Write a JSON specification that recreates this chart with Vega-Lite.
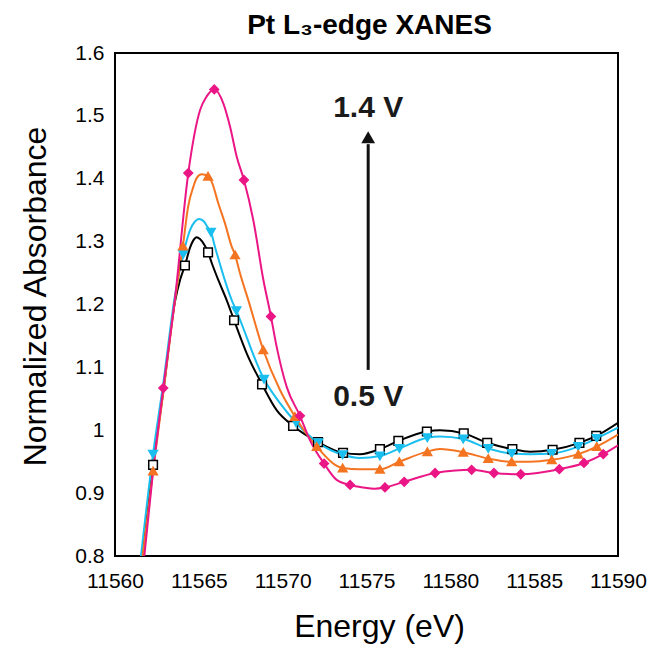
{
  "$schema": "https://vega.github.io/schema/vega-lite/v6.json",
  "width": 503,
  "height": 503,
  "autosize": {"type": "none"},
  "padding": {"left": 115, "top": 53, "right": 37, "bottom": 90},
  "background": "white",
  "config": {
    "view": {"stroke": "black", "strokeWidth": 2},
    "font": "Liberation Sans",
    "axis": {"domain": false, "ticks": false, "grid": false, "labelColor": "black", "titleColor": "black", "labelFont": "Liberation Sans", "titleFont": "Liberation Sans", "titleFontWeight": "normal", "labelFontSize": 21, "titleFontSize": 32, "labelOverlap": false, "labelFlush": false, "labelBound": false}
  },
  "title": {"text": "Pt L₃-edge XANES", "fontSize": 28, "fontWeight": "bold", "font": "Liberation Sans", "anchor": "middle", "offset": 2, "color": "black", "dx": 3},
  "datasets": {
    "curves": [
      {"s": "0.5 V", "e": 11561.65, "a": 0.800, "m": 0},
      {"s": "0.5 V", "e": 11562.27, "a": 0.945, "m": 1},
      {"s": "0.5 V", "e": 11562.88, "a": 1.062, "m": 0},
      {"s": "0.5 V", "e": 11563.58, "a": 1.205, "m": 0},
      {"s": "0.5 V", "e": 11563.88, "a": 1.239, "m": 0},
      {"s": "0.5 V", "e": 11564.17, "a": 1.262, "m": 1},
      {"s": "0.5 V", "e": 11564.47, "a": 1.290, "m": 0},
      {"s": "0.5 V", "e": 11564.67, "a": 1.302, "m": 0},
      {"s": "0.5 V", "e": 11564.87, "a": 1.307, "m": 0},
      {"s": "0.5 V", "e": 11565.07, "a": 1.304, "m": 0},
      {"s": "0.5 V", "e": 11565.37, "a": 1.293, "m": 0},
      {"s": "0.5 V", "e": 11565.55, "a": 1.283, "m": 1},
      {"s": "0.5 V", "e": 11565.77, "a": 1.266, "m": 0},
      {"s": "0.5 V", "e": 11566.16, "a": 1.239, "m": 0},
      {"s": "0.5 V", "e": 11566.66, "a": 1.207, "m": 0},
      {"s": "0.5 V", "e": 11567.10, "a": 1.175, "m": 1},
      {"s": "0.5 V", "e": 11567.86, "a": 1.122, "m": 0},
      {"s": "0.5 V", "e": 11568.77, "a": 1.073, "m": 1},
      {"s": "0.5 V", "e": 11569.64, "a": 1.032, "m": 0},
      {"s": "0.5 V", "e": 11570.62, "a": 1.007, "m": 1},
      {"s": "0.5 V", "e": 11572.11, "a": 0.981, "m": 1},
      {"s": "0.5 V", "e": 11573.60, "a": 0.964, "m": 1},
      {"s": "0.5 V", "e": 11574.61, "a": 0.962, "m": 0},
      {"s": "0.5 V", "e": 11575.80, "a": 0.970, "m": 1},
      {"s": "0.5 V", "e": 11576.90, "a": 0.983, "m": 1},
      {"s": "0.5 V", "e": 11578.60, "a": 0.998, "m": 1},
      {"s": "0.5 V", "e": 11579.38, "a": 1.000, "m": 0},
      {"s": "0.5 V", "e": 11580.80, "a": 0.995, "m": 1},
      {"s": "0.5 V", "e": 11582.20, "a": 0.980, "m": 1},
      {"s": "0.5 V", "e": 11583.70, "a": 0.970, "m": 1},
      {"s": "0.5 V", "e": 11584.75, "a": 0.966, "m": 0},
      {"s": "0.5 V", "e": 11586.10, "a": 0.969, "m": 1},
      {"s": "0.5 V", "e": 11587.70, "a": 0.980, "m": 1},
      {"s": "0.5 V", "e": 11588.70, "a": 0.991, "m": 1},
      {"s": "0.5 V", "e": 11590.00, "a": 1.012, "m": 0},

      {"s": "V2", "e": 11561.55, "a": 0.800, "m": 0},
      {"s": "V2", "e": 11562.27, "a": 0.962, "m": 1},
      {"s": "V2", "e": 11562.88, "a": 1.075, "m": 0},
      {"s": "V2", "e": 11563.58, "a": 1.215, "m": 0},
      {"s": "V2", "e": 11564.07, "a": 1.280, "m": 1},
      {"s": "V2", "e": 11564.47, "a": 1.318, "m": 0},
      {"s": "V2", "e": 11564.77, "a": 1.332, "m": 0},
      {"s": "V2", "e": 11565.01, "a": 1.336, "m": 0},
      {"s": "V2", "e": 11565.27, "a": 1.333, "m": 0},
      {"s": "V2", "e": 11565.57, "a": 1.321, "m": 0},
      {"s": "V2", "e": 11565.72, "a": 1.315, "m": 1},
      {"s": "V2", "e": 11565.96, "a": 1.292, "m": 0},
      {"s": "V2", "e": 11566.56, "a": 1.238, "m": 0},
      {"s": "V2", "e": 11566.96, "a": 1.207, "m": 0},
      {"s": "V2", "e": 11567.24, "a": 1.190, "m": 1},
      {"s": "V2", "e": 11568.89, "a": 1.081, "m": 1},
      {"s": "V2", "e": 11569.84, "a": 1.043, "m": 0},
      {"s": "V2", "e": 11570.80, "a": 1.012, "m": 1},
      {"s": "V2", "e": 11572.12, "a": 0.980, "m": 1},
      {"s": "V2", "e": 11573.58, "a": 0.961, "m": 1},
      {"s": "V2", "e": 11574.61, "a": 0.956, "m": 0},
      {"s": "V2", "e": 11575.80, "a": 0.959, "m": 1},
      {"s": "V2", "e": 11576.96, "a": 0.971, "m": 1},
      {"s": "V2", "e": 11578.63, "a": 0.988, "m": 1},
      {"s": "V2", "e": 11579.38, "a": 0.990, "m": 0},
      {"s": "V2", "e": 11580.77, "a": 0.986, "m": 1},
      {"s": "V2", "e": 11582.26, "a": 0.971, "m": 1},
      {"s": "V2", "e": 11583.66, "a": 0.963, "m": 1},
      {"s": "V2", "e": 11584.75, "a": 0.962, "m": 0},
      {"s": "V2", "e": 11586.05, "a": 0.963, "m": 1},
      {"s": "V2", "e": 11587.63, "a": 0.974, "m": 1},
      {"s": "V2", "e": 11588.73, "a": 0.987, "m": 1},
      {"s": "V2", "e": 11590.00, "a": 1.004, "m": 0},

      {"s": "V3", "e": 11561.65, "a": 0.800, "m": 0},
      {"s": "V3", "e": 11562.27, "a": 0.935, "m": 1},
      {"s": "V3", "e": 11562.88, "a": 1.060, "m": 0},
      {"s": "V3", "e": 11563.58, "a": 1.207, "m": 0},
      {"s": "V3", "e": 11564.05, "a": 1.293, "m": 1},
      {"s": "V3", "e": 11564.37, "a": 1.357, "m": 0},
      {"s": "V3", "e": 11564.67, "a": 1.387, "m": 0},
      {"s": "V3", "e": 11564.87, "a": 1.401, "m": 0},
      {"s": "V3", "e": 11565.17, "a": 1.407, "m": 0},
      {"s": "V3", "e": 11565.55, "a": 1.404, "m": 1},
      {"s": "V3", "e": 11565.77, "a": 1.395, "m": 0},
      {"s": "V3", "e": 11566.16, "a": 1.361, "m": 0},
      {"s": "V3", "e": 11566.56, "a": 1.329, "m": 0},
      {"s": "V3", "e": 11566.96, "a": 1.292, "m": 0},
      {"s": "V3", "e": 11567.16, "a": 1.279, "m": 1},
      {"s": "V3", "e": 11567.45, "a": 1.250, "m": 0},
      {"s": "V3", "e": 11567.95, "a": 1.207, "m": 0},
      {"s": "V3", "e": 11568.84, "a": 1.128, "m": 1},
      {"s": "V3", "e": 11569.84, "a": 1.064, "m": 0},
      {"s": "V3", "e": 11570.73, "a": 1.022, "m": 1},
      {"s": "V3", "e": 11572.03, "a": 0.974, "m": 1},
      {"s": "V3", "e": 11573.58, "a": 0.940, "m": 1},
      {"s": "V3", "e": 11574.61, "a": 0.938, "m": 0},
      {"s": "V3", "e": 11575.80, "a": 0.938, "m": 1},
      {"s": "V3", "e": 11576.96, "a": 0.950, "m": 1},
      {"s": "V3", "e": 11578.63, "a": 0.966, "m": 1},
      {"s": "V3", "e": 11579.38, "a": 0.970, "m": 0},
      {"s": "V3", "e": 11580.77, "a": 0.965, "m": 1},
      {"s": "V3", "e": 11582.26, "a": 0.955, "m": 1},
      {"s": "V3", "e": 11583.66, "a": 0.950, "m": 1},
      {"s": "V3", "e": 11584.75, "a": 0.950, "m": 0},
      {"s": "V3", "e": 11586.05, "a": 0.953, "m": 1},
      {"s": "V3", "e": 11587.63, "a": 0.962, "m": 1},
      {"s": "V3", "e": 11588.73, "a": 0.974, "m": 1},
      {"s": "V3", "e": 11590.00, "a": 0.993, "m": 0},

      {"s": "1.4 V", "e": 11561.75, "a": 0.800, "m": 0},
      {"s": "1.4 V", "e": 11562.27, "a": 0.935, "m": 0},
      {"s": "1.4 V", "e": 11562.88, "a": 1.067, "m": 1},
      {"s": "1.4 V", "e": 11563.58, "a": 1.210, "m": 0},
      {"s": "1.4 V", "e": 11564.37, "a": 1.409, "m": 1},
      {"s": "1.4 V", "e": 11565.07, "a": 1.509, "m": 0},
      {"s": "1.4 V", "e": 11565.47, "a": 1.531, "m": 0},
      {"s": "1.4 V", "e": 11565.92, "a": 1.542, "m": 1},
      {"s": "1.4 V", "e": 11566.46, "a": 1.520, "m": 0},
      {"s": "1.4 V", "e": 11566.86, "a": 1.483, "m": 0},
      {"s": "1.4 V", "e": 11567.26, "a": 1.435, "m": 0},
      {"s": "1.4 V", "e": 11567.69, "a": 1.398, "m": 1},
      {"s": "1.4 V", "e": 11568.25, "a": 1.334, "m": 0},
      {"s": "1.4 V", "e": 11568.85, "a": 1.239, "m": 0},
      {"s": "1.4 V", "e": 11569.30, "a": 1.181, "m": 1},
      {"s": "1.4 V", "e": 11569.64, "a": 1.133, "m": 0},
      {"s": "1.4 V", "e": 11570.24, "a": 1.069, "m": 0},
      {"s": "1.4 V", "e": 11571.03, "a": 1.023, "m": 1},
      {"s": "1.4 V", "e": 11571.63, "a": 0.984, "m": 0},
      {"s": "1.4 V", "e": 11572.47, "a": 0.947, "m": 1},
      {"s": "1.4 V", "e": 11573.22, "a": 0.921, "m": 0},
      {"s": "1.4 V", "e": 11574.02, "a": 0.913, "m": 1},
      {"s": "1.4 V", "e": 11574.81, "a": 0.909, "m": 0},
      {"s": "1.4 V", "e": 11575.50, "a": 0.907, "m": 0},
      {"s": "1.4 V", "e": 11576.10, "a": 0.909, "m": 1},
      {"s": "1.4 V", "e": 11577.25, "a": 0.918, "m": 1},
      {"s": "1.4 V", "e": 11579.09, "a": 0.932, "m": 1},
      {"s": "1.4 V", "e": 11580.30, "a": 0.936, "m": 0},
      {"s": "1.4 V", "e": 11581.27, "a": 0.937, "m": 1},
      {"s": "1.4 V", "e": 11582.60, "a": 0.932, "m": 1},
      {"s": "1.4 V", "e": 11584.20, "a": 0.930, "m": 1},
      {"s": "1.4 V", "e": 11586.50, "a": 0.938, "m": 1},
      {"s": "1.4 V", "e": 11587.97, "a": 0.948, "m": 1},
      {"s": "1.4 V", "e": 11589.12, "a": 0.962, "m": 1},
      {"s": "1.4 V", "e": 11590.00, "a": 0.976, "m": 0}
    ],
    "arrow": [
      {"e": 11575.1, "a": 1.096, "a2": 1.455}
    ],
    "head": [
      {"e": 11575.1, "a": 1.466}
    ],
    "labels": [
      {"e": 11575.1, "a": 1.512, "t": "1.4 V"},
      {"e": 11575.1, "a": 1.053, "t": "0.5 V"}
    ]
  },
  "layer": [
    {
      "data": {"name": "curves"},
      "mark": {"type": "line", "interpolate": "monotone", "strokeWidth": 2, "clip": true},
      "encoding": {
        "x": {"field": "e", "type": "quantitative", "scale": {"domain": [11560, 11590], "nice": false, "zero": false},
              "axis": {"title": "Energy (eV)", "values": [11560, 11565, 11570, 11575, 11580, 11585, 11590], "format": "d", "labelPadding": 14, "labelDx": 4, "titlePadding": 20, "titleX": 264}},
        "y": {"field": "a", "type": "quantitative", "scale": {"domain": [0.8, 1.6], "nice": false, "zero": false},
              "axis": {"title": "Normalized Absorbance", "values": [0.8, 0.9, 1.0, 1.1, 1.2, 1.3, 1.4, 1.5, 1.6], "format": "~g", "labelPadding": 11, "titlePadding": 22, "titleY": 243}},
        "color": {"field": "s", "type": "nominal", "scale": {"domain": ["0.5 V", "V2", "V3", "1.4 V"], "range": ["#000000", "#1ABFF0", "#F47421", "#EB1686"]}, "legend": null}
      }
    },
    {
      "data": {"name": "curves"},
      "transform": [{"filter": "datum.m == 1"}],
      "mark": {"type": "point", "filled": false, "size": 75, "strokeWidth": 1.5, "opacity": 1, "clip": true},
      "encoding": {
        "x": {"field": "e", "type": "quantitative"},
        "y": {"field": "a", "type": "quantitative"},
        "shape": {"field": "s", "type": "nominal", "scale": {"domain": ["0.5 V", "V2", "V3", "1.4 V"], "range": ["square", "triangle-down", "triangle-up", "diamond"]}, "legend": null},
        "stroke": {"field": "s", "type": "nominal", "scale": {"domain": ["0.5 V", "V2", "V3", "1.4 V"], "range": ["#000000", "#1ABFF0", "#F47421", "#EB1686"]}, "legend": null},
        "fill": {"field": "s", "type": "nominal", "scale": {"domain": ["0.5 V", "V2", "V3", "1.4 V"], "range": ["#FFFFFF", "#1ABFF0", "#F47421", "#EB1686"]}, "legend": null}
      }
    },
    {
      "data": {"name": "arrow"},
      "mark": {"type": "rule", "strokeWidth": 3, "color": "#111111"},
      "encoding": {
        "x": {"field": "e", "type": "quantitative"},
        "y": {"field": "a", "type": "quantitative"},
        "y2": {"field": "a2"}
      }
    },
    {
      "data": {"name": "head"},
      "mark": {"type": "point", "shape": "triangle-up", "filled": true, "size": 190, "color": "#111111", "opacity": 1},
      "encoding": {
        "x": {"field": "e", "type": "quantitative"},
        "y": {"field": "a", "type": "quantitative"}
      }
    },
    {
      "data": {"name": "labels"},
      "mark": {"type": "text", "fontSize": 30, "fontWeight": "bold", "font": "Liberation Sans", "color": "#1a1a1a", "align": "center", "baseline": "middle"},
      "encoding": {
        "x": {"field": "e", "type": "quantitative"},
        "y": {"field": "a", "type": "quantitative"},
        "text": {"field": "t"}
      }
    }
  ]
}
